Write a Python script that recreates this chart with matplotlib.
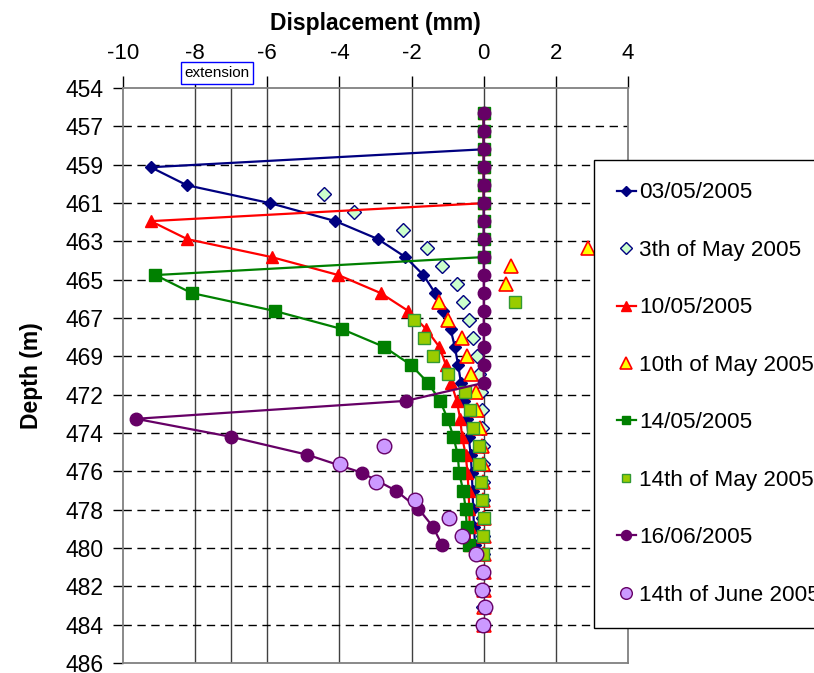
import numpy as np
import matplotlib
matplotlib.use("Agg")
import matplotlib.pyplot as plt

plt.rcParams['font.family'] = ['Liberation Sans', 'DejaVu Sans']

# depths of the inclinometer readings (m)
depth = [455.9, 456.9, 457.9, 458.9, 459.9, 460.9, 461.9, 462.9, 463.9, 464.9,
         465.9, 466.9, 467.9, 468.9, 469.9, 470.9, 471.9, 472.9, 473.9, 474.9,
         475.9, 476.9, 477.9, 478.9, 479.9]
depth_b = [456.4, 457.4, 458.4, 459.4, 460.4, 461.4, 462.4, 463.4, 464.4, 465.4,
           466.4, 467.4, 468.4, 469.4, 470.4, 471.4, 472.4, 473.4, 474.4, 475.4,
           476.4, 477.4, 478.4, 479.4, 480.4, 481.4, 482.4, 483.4, 484.4]

# displacement (mm), measured series
d030505 = [0, 0, 0, -9.23, -8.23, -5.92, -4.11, -2.93, -2.17, -1.67, -1.35, -1.13, -0.92,
           -0.8, -0.71, -0.63, -0.55, -0.47, -0.42, -0.36, -0.33, -0.31, -0.29, -0.27, -0.24]
d100505 = [0, 0, 0, 0, 0, 0, -9.23, -8.22, -5.88, -4.03, -2.86, -2.09, -1.6,
           -1.23, -1.05, -0.9, -0.75, -0.65, -0.6, -0.5, -0.45, -0.42, -0.4, -0.39, -0.38]
d140505 = [0, 0, 0, 0, 0, 0, 0, 0, 0, -9.1, -8.1, -5.79, -3.94,
           -2.76, -2.02, -1.54, -1.21, -1.0, -0.84, -0.72, -0.68, -0.57, -0.5, -0.47, -0.41]
d160605 = [0, 0, 0, 0, 0, 0, 0, 0, 0, 0, 0, 0, 0,
           0, 0, 0, -2.15, -9.64, -7.01, -4.89, -3.38, -2.43, -1.81, -1.41, -1.16]

# second set of readings
b3may = [None, None, None, None, -4.43, -3.59, -2.23, -1.58, -1.15, -0.75, -0.57, -0.41, -0.29,
         -0.18, -0.12, -0.07, -0.05, -0.04, -0.03, -0.03, -0.02, -0.02, -0.02, -0.01, -0.01,
         -0.01, -0.01, -0.01, -0.01]
b10may = [None, None, None, None, None, None, None, 2.9, 0.76, 0.62, -1.25, -1.0, -0.6,
          -0.45, -0.35, -0.2, -0.19, -0.1, -0.05, -0.03, -0.02, -0.02, 0.0, 0.0, 0.0,
          0.0, 0.0, 0.0, 0.0]
b14may = [None, None, None, None, None, None, None, None, None, None, 0.87, -1.92, -1.65,
          -1.4, -1.0, -0.53, -0.38, -0.29, -0.12, -0.12, -0.08, -0.06, 0.0, -0.01, -0.01,
          None, None, None, None]
b14jun = [None, None, None, None, None, None, None, None, None, None, None, None, None,
          None, None, None, None, None, -2.76, -3.98, -2.99, -1.9, -0.95, -0.59, -0.22,
          -0.03, -0.05, 0.03, -0.01]

ytick_labels = ['454', '457', '459', '461', '463', '465', '467', '469', '472',
                '474', '476', '478', '480', '482', '484', '486']
xticks = [-10, -8, -6, -4, -2, 0, 2, 4]


def arr(v):
    return np.array([np.nan if a is None else a for a in v], dtype=float)


fig = plt.figure(figsize=(8.14, 6.73), dpi=100)
ax = fig.add_axes([123 / 814, 1 - 663 / 673, (628 - 123) / 814, (663 - 88) / 673])

ax.plot(d030505, depth, color='#000080', lw=1.6, marker='D', ms=6.5, zorder=3,
        label='03/05/2005')
ax.plot(arr(b3may), depth_b, ls='none', marker='D', ms=7.5, mfc='#CCFFCC', mec='#000080',
        mew=1, zorder=4, label='3th of May 2005')
ax.plot(d100505, depth, color='#FF0000', lw=1.6, marker='^', ms=9, zorder=5,
        label='10/05/2005')
ax.plot(arr(b10may), depth_b, ls='none', marker='^', ms=10, mfc='#FFFF00', mec='#FF0000',
        mew=1.2, zorder=6, label='10th of May 2005')
ax.plot(d140505, depth, color='#008000', lw=1.6, marker='s', ms=8, zorder=7,
        label='14/05/2005')
ax.plot(arr(b14may), depth_b, ls='none', marker='s', ms=8, mfc='#99CC00', mec='#339933',
        mew=1, zorder=8, label='14th of May 2005')
ax.plot(d160605, depth, color='#660066', lw=1.6, marker='o', ms=9, zorder=9,
        label='16/06/2005')
ax.plot(arr(b14jun), depth_b, ls='none', marker='o', ms=10.5, mfc='#CC99FF', mec='#660066',
        mew=1, zorder=10, label='14th of June 2005')

ax.set_xlim(-10, 4)
ax.set_ylim(486.49, 454.49)
yt = np.linspace(454.49, 486.49, 16)
ax.set_yticks(yt)
ax.set_yticklabels(ytick_labels)
ax.set_xticks(xticks)
ax.set_xticklabels([str(v) for v in xticks])

ax.xaxis.tick_top()
ax.xaxis.set_label_position('top')
ax.tick_params(axis='x', direction='out', length=9, width=1, pad=8, labelsize=16)
ax.tick_params(axis='y', direction='out', length=7, width=1, pad=7, labelsize=16.5)

# grid
for v in [-8, -7, -6, -4, -2, 0, 2]:
    ax.axvline(v, color='#404040', lw=1, zorder=1)
for v in yt[1:-1]:
    ax.axhline(v, color='black', lw=1, ls=(0, (6, 4)), zorder=1)

for s in ax.spines.values():
    s.set_color('#808080')
    s.set_linewidth(1.3)

ax.set_xlabel('Displacement (mm)', fontsize=16.5, fontweight='bold', labelpad=10)
ax.set_ylabel('Depth (m)', fontsize=16.5, fontweight='bold', labelpad=16)

fig.text(217 / 814, 1 - 73 / 673, 'extension', ha='center', va='center', fontsize=11,
         bbox=dict(boxstyle='square,pad=0.25', fc='white', ec='#0000FF', lw=1))

leg = fig.legend(loc='upper left', bbox_to_anchor=(594 / 814, 1 - 160 / 673),
                 borderaxespad=0, fontsize=16.2, labelspacing=1.62, handlelength=0.85,
                 handletextpad=0.15, borderpad=1.0, fancybox=False, framealpha=1,
                 edgecolor='black', markerscale=0.8)
leg.get_frame().set_linewidth(1)

fig.savefig('out.png', dpi=100)
